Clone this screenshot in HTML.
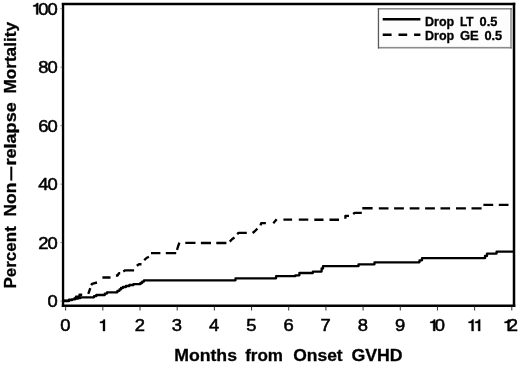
<!DOCTYPE html>
<html>
<head>
<meta charset="utf-8">
<title>Non-relapse mortality</title>
<style>
html,body{margin:0;padding:0;background:#fff;}
body{width:520px;height:365px;overflow:hidden;font-family:"Liberation Sans",sans-serif;}
svg{display:block;will-change:transform;}
text{font-family:"Liberation Sans",sans-serif;fill:#000;}
.tk{font-size:16px;letter-spacing:-0.9px;stroke:#000;stroke-width:0.5px;}
.one{fill:#000;stroke:#000;stroke-width:0.35px;}
.b{font-weight:bold;stroke:#000;stroke-width:0.3px;}
.t16{font-size:17px;}
.t12{font-size:12.4px;}
</style>
</head>
<body>
<svg width="520" height="365" viewBox="0 0 520 365">
<defs><filter id="soft" x="0" y="0" width="520" height="365" filterUnits="userSpaceOnUse"><feGaussianBlur stdDeviation="0.42"/></filter></defs>
<rect x="0" y="0" width="520" height="365" fill="#fff"/>
<g filter="url(#soft)">
<!-- plot frame -->
<g stroke="#000" fill="none" stroke-linecap="square">
<line x1="63.05" y1="4.05" x2="514" y2="4.05" stroke-width="2.5"/>
<line x1="63.05" y1="305.7" x2="514" y2="305.7" stroke-width="2.6"/>
<line x1="63.05" y1="4.05" x2="63.05" y2="305.7" stroke-width="2.35"/>
<line x1="514" y1="4.05" x2="514" y2="305.7" stroke-width="2.5"/>
</g>

<g stroke="#333" stroke-width="1">
<line x1="65.65" y1="306.5" x2="65.65" y2="310.5"/>
<line x1="102.83" y1="306.5" x2="102.83" y2="310.5"/>
<line x1="140.01" y1="306.5" x2="140.01" y2="310.5"/>
<line x1="177.19" y1="306.5" x2="177.19" y2="310.5"/>
<line x1="214.37" y1="306.5" x2="214.37" y2="310.5"/>
<line x1="251.55" y1="306.5" x2="251.55" y2="310.5"/>
<line x1="288.73" y1="306.5" x2="288.73" y2="310.5"/>
<line x1="325.91" y1="306.5" x2="325.91" y2="310.5"/>
<line x1="363.09" y1="306.5" x2="363.09" y2="310.5"/>
<line x1="400.27" y1="306.5" x2="400.27" y2="310.5"/>
<line x1="437.45" y1="306.5" x2="437.45" y2="310.5"/>
<line x1="474.63" y1="306.5" x2="474.63" y2="310.5"/>
<line x1="511.81" y1="306.5" x2="511.81" y2="310.5"/>
</g>
<g stroke="#888" stroke-width="1">
<line x1="60.4" y1="8.70" x2="62.2" y2="8.70"/>
<line x1="60.4" y1="67.18" x2="62.2" y2="67.18"/>
<line x1="60.4" y1="125.66" x2="62.2" y2="125.66"/>
<line x1="60.4" y1="184.14" x2="62.2" y2="184.14"/>
<line x1="60.4" y1="242.62" x2="62.2" y2="242.62"/>
<line x1="60.4" y1="301.10" x2="62.2" y2="301.10"/>
</g>
<g class="tk" text-anchor="end">
<text transform="translate(56.60,14.50) scale(1.15,1)" text-anchor="end">00</text>
<path class="one" d="M38.20 14.50V3.00H36.80C36.50 4.40 35.20 5.10 33.20 5.15V6.50H36.20V14.50Z"/>
<text transform="translate(56.60,72.98) scale(1.15,1)" text-anchor="end">80</text>
<text transform="translate(56.60,132.26) scale(1.15,1)" text-anchor="end">60</text>
<text transform="translate(56.60,189.94) scale(1.15,1)" text-anchor="end">40</text>
<text transform="translate(56.60,248.92) scale(1.15,1)" text-anchor="end">20</text>
<text transform="translate(56.60,307.10) scale(1.15,1)" text-anchor="end">0</text>
</g>
<g class="tk" text-anchor="middle">
<text transform="translate(64.90,331.00) scale(1.15,1)" text-anchor="middle">0</text>
<path class="one" d="M104.98 331.00V319.50H103.58C103.28 320.90 101.98 321.60 99.98 321.65V323.00H102.98V331.00Z"/>
<text transform="translate(139.26,331.00) scale(1.15,1)" text-anchor="middle">2</text>
<text transform="translate(176.44,331.00) scale(1.15,1)" text-anchor="middle">3</text>
<text transform="translate(213.62,331.00) scale(1.15,1)" text-anchor="middle">4</text>
<text transform="translate(250.80,331.00) scale(1.15,1)" text-anchor="middle">5</text>
<text transform="translate(287.98,331.00) scale(1.15,1)" text-anchor="middle">6</text>
<text transform="translate(325.16,331.00) scale(1.15,1)" text-anchor="middle">7</text>
<text transform="translate(362.34,331.00) scale(1.15,1)" text-anchor="middle">8</text>
<text transform="translate(399.52,331.00) scale(1.15,1)" text-anchor="middle">9</text>
<path class="one" d="M435.20 331.00V319.50H433.80C433.50 320.90 432.20 321.60 430.20 321.65V323.00H433.20V331.00Z"/>
<text transform="translate(434.80,331.00) scale(1.15,1)" text-anchor="start">0</text>
<path class="one" d="M473.58 331.00V319.50H472.18C471.88 320.90 470.58 321.60 468.58 321.65V323.00H471.58V331.00Z"/>
<path class="one" d="M480.18 331.00V319.50H478.78C478.48 320.90 477.18 321.60 475.18 321.65V323.00H478.18V331.00Z"/>
<path class="one" d="M509.56 331.00V319.50H508.16C507.86 320.90 506.56 321.60 504.56 321.65V323.00H507.56V331.00Z"/>
<text transform="translate(507.76,331.00) scale(1.15,1)" text-anchor="start">2</text>
</g>
<g class="b t16">
<text x="174.20" y="361.3" textLength="62.80" lengthAdjust="spacingAndGlyphs">Months</text>
<text x="245.20" y="361.3" textLength="37.80" lengthAdjust="spacingAndGlyphs">from</text>
<text x="293.20" y="361.3" textLength="49.50" lengthAdjust="spacingAndGlyphs">Onset</text>
<text x="351.40" y="361.3" textLength="51.20" lengthAdjust="spacingAndGlyphs">GVHD</text>
</g>
<g class="b t16" transform="translate(15.9,0) rotate(-90)">
<text x="-288.60" y="0" textLength="62.40" lengthAdjust="spacingAndGlyphs">Percent</text>
<text x="-216.40" y="0" textLength="33.60" lengthAdjust="spacingAndGlyphs">Non</text>
<text x="-165.60" y="0" textLength="63.40" lengthAdjust="spacingAndGlyphs">relapse</text>
<text x="-93.60" y="0" textLength="71.60" lengthAdjust="spacingAndGlyphs">Mortality</text>
</g>
<rect x="10.3" y="166.6" width="2" height="14.0" fill="#000"/>
<path fill="none" stroke="#000" stroke-width="2.3" stroke-linejoin="round" d="M63.4 301 H69 V300.2 H72 V299.4 H75 V298.7 H78 V298 H80.5 V297.3 H94 V296.2 H96.3 V295 H104.8 V293.6 H107 V292.3 H117.4 V290.8 H119.5 V289.4 H121 V288 H123 V287 H126 V286 H129.4 V285 H133.5 V284.1 H140.5 V283 H142.2 V281.6 H144 V280.3 H235.5 V278.3 H276.1 V276.2 H295.4 V275.3 H299.4 V273 H312.9 V271.6 H321.6 V268.5 H323 V266.2 H358.5 V264.3 H374.5 V262.3 H419.5 V260.3 H422 V258.2 H485 V256 H487 V253.6 H496.6 V251.6 H513.5"/>
<path fill="none" stroke="#000" stroke-width="2.35" stroke-linejoin="round" d="M64 300.6 H69 V299.6 H71.5 M73.5 298.4 H76 V296.6 H79.5 V294.7 H82.2 M88.3 293.8 L89.3 291 L90.3 288.2 M91.3 285.2 L92 283.8 L97 282.5 M102.4 277.5 H110.5 M115.9 275.5 H117.5 L119 273.2 H120.2 M123.3 271.6 L125.3 270.3 H134.1 M136.8 265.7 L139 264.2 H141.5 M144.2 260.2 L146.5 258 L148.9 256.8 M151 253.1 H160.4 M165.8 253.1 H176.2 M177 249.8 L178.2 246 L179.4 242.6 M185.3 242.9 H195.5 M200.9 243 H211 M216.3 243 H226.4 M229.8 241.6 L232 239.2 L234.5 237.6 M237.2 234.2 L238.6 232.8 H246.8 M252.6 233 L254.5 231.5 L257.4 228.6 M260.5 225.4 L261.2 223.1 H265.9 M273.3 223.2 L275 221.2 L276.7 219.3 M283.4 219.6 H292.1 M298.8 219.6 H308.3 M314.3 219.7 H323.5 M329.5 219.7 H339 M345.4 218.7 V215.8 H349 M353.2 214 L354.6 212.8 H361.8 M362.3 208.2 H372.6 M378.8 208.3 H388.5 M394.1 208.3 H403.9 M409.7 208.3 H419.4 M425.1 208.3 H434.9 M440.5 208.3 H450.1 M456 208.3 H465.9 M471.5 208.3 H481.6 M483.4 204.9 H493.2 M498.8 204.9 H508.5"/>
<rect x="378" y="8.3" width="134" height="40" fill="#fdfdfd"/>
<rect x="510" y="8.3" width="2.1" height="40.2" fill="#a8a8a8"/>
<rect x="378" y="46.9" width="134.1" height="1.6" fill="#8a8a8a"/>
<rect x="377.8" y="8.3" width="134.3" height="1.1" fill="#5a5a5a"/>
<rect x="377.8" y="8.3" width="1.3" height="40.2" fill="#5a5a5a"/>
<line x1="382.7" y1="19.25" x2="420.4" y2="19.25" stroke="#000" stroke-width="2.5"/>
<path d="M382.7 34.8H391.6M398.5 34.8H407.2M414.1 34.8H420.4" stroke="#000" stroke-width="2.6" fill="none"/>
<g class="b t12">
<text x="425.00" y="26.1" textLength="29.20" lengthAdjust="spacingAndGlyphs">Drop</text>
<text x="460.00" y="26.1" textLength="13.60" lengthAdjust="spacingAndGlyphs">LT</text>
<text x="479.60" y="26.1" textLength="17.80" lengthAdjust="spacingAndGlyphs">0.5</text>
<text x="425.00" y="40.3" textLength="29.20" lengthAdjust="spacingAndGlyphs">Drop</text>
<text x="460.00" y="40.3" textLength="18.80" lengthAdjust="spacingAndGlyphs">GE</text>
<text x="484.40" y="40.3" textLength="17.80" lengthAdjust="spacingAndGlyphs">0.5</text>
</g>
</g>
</svg>
</body>
</html>
